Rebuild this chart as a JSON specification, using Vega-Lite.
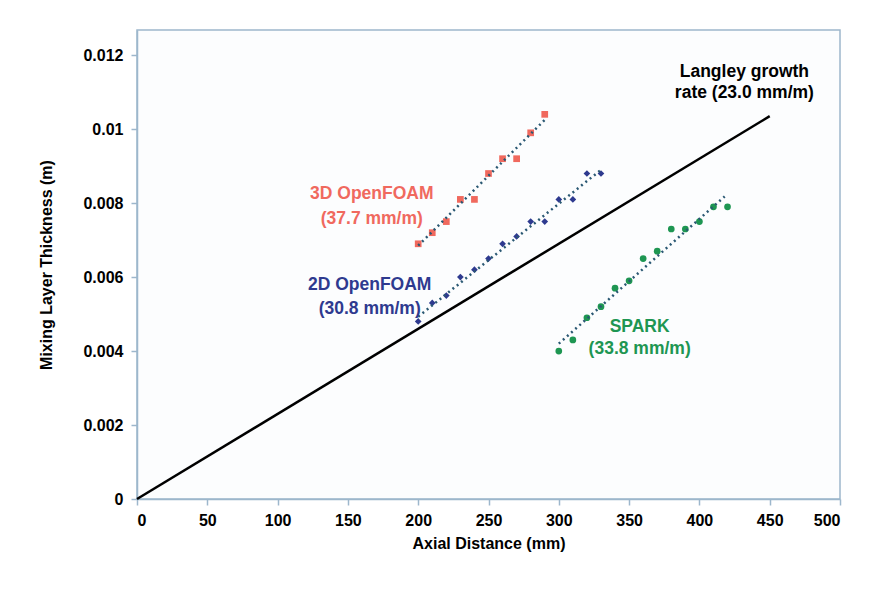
{
  "$schema": "https://vega.github.io/schema/vega-lite/v6.json",
  "width": 703,
  "height": 469,
  "autosize": {"type": "none"},
  "padding": {"left": 137, "top": 30, "right": 34, "bottom": 91},
  "background": "#ffffff",
  "config": {
    "font": "Liberation Sans",
    "view": {"stroke": "#9db7cc", "strokeWidth": 1.5, "fill": "#fcfdfe"},
    "axis": {
      "grid": false,
      "domainColor": "#9db7cc",
      "domainWidth": 1.5,
      "tickColor": "#9db7cc",
      "tickWidth": 1.5,
      "tickSize": 6,
      "labelFont": "Liberation Sans",
      "labelFontWeight": "bold",
      "labelFontSize": 16,
      "labelColor": "#000000",
      "titleFont": "Liberation Sans",
      "titleFontWeight": "bold",
      "titleFontSize": 16,
      "titleColor": "#000000"
    }
  },
  "datasets": {
    "points": [
      {"series": "3D OpenFOAM", "x": 200, "y": 0.0069},
      {"series": "3D OpenFOAM", "x": 210, "y": 0.0072},
      {"series": "3D OpenFOAM", "x": 220, "y": 0.0075},
      {"series": "3D OpenFOAM", "x": 230, "y": 0.0081},
      {"series": "3D OpenFOAM", "x": 240, "y": 0.0081},
      {"series": "3D OpenFOAM", "x": 250, "y": 0.0088},
      {"series": "3D OpenFOAM", "x": 260, "y": 0.0092},
      {"series": "3D OpenFOAM", "x": 270, "y": 0.0092},
      {"series": "3D OpenFOAM", "x": 280, "y": 0.0099},
      {"series": "3D OpenFOAM", "x": 290, "y": 0.0104},
      {"series": "2D OpenFOAM", "x": 200, "y": 0.0048},
      {"series": "2D OpenFOAM", "x": 210, "y": 0.0053},
      {"series": "2D OpenFOAM", "x": 220, "y": 0.0055},
      {"series": "2D OpenFOAM", "x": 230, "y": 0.0060},
      {"series": "2D OpenFOAM", "x": 240, "y": 0.0062},
      {"series": "2D OpenFOAM", "x": 250, "y": 0.0065},
      {"series": "2D OpenFOAM", "x": 260, "y": 0.0069},
      {"series": "2D OpenFOAM", "x": 270, "y": 0.0071},
      {"series": "2D OpenFOAM", "x": 280, "y": 0.0075},
      {"series": "2D OpenFOAM", "x": 290, "y": 0.0075},
      {"series": "2D OpenFOAM", "x": 300, "y": 0.0081},
      {"series": "2D OpenFOAM", "x": 310, "y": 0.0081},
      {"series": "2D OpenFOAM", "x": 320, "y": 0.0088},
      {"series": "2D OpenFOAM", "x": 330, "y": 0.0088},
      {"series": "SPARK", "x": 300, "y": 0.0040},
      {"series": "SPARK", "x": 310, "y": 0.0043},
      {"series": "SPARK", "x": 320, "y": 0.0049},
      {"series": "SPARK", "x": 330, "y": 0.0052},
      {"series": "SPARK", "x": 340, "y": 0.0057},
      {"series": "SPARK", "x": 350, "y": 0.0059},
      {"series": "SPARK", "x": 360, "y": 0.0065},
      {"series": "SPARK", "x": 370, "y": 0.0067},
      {"series": "SPARK", "x": 380, "y": 0.0073},
      {"series": "SPARK", "x": 390, "y": 0.0073},
      {"series": "SPARK", "x": 400, "y": 0.0075},
      {"series": "SPARK", "x": 410, "y": 0.0079},
      {"series": "SPARK", "x": 420, "y": 0.0079}
    ],
    "trends": [
      {"series": "3D OpenFOAM", "x": 200, "y": 0.00685},
      {"series": "3D OpenFOAM", "x": 290, "y": 0.01025},
      {"series": "2D OpenFOAM", "x": 200, "y": 0.00493},
      {"series": "2D OpenFOAM", "x": 331, "y": 0.00893},
      {"series": "SPARK", "x": 300, "y": 0.0042},
      {"series": "SPARK", "x": 418, "y": 0.00818}
    ],
    "langley": [
      {"x": 0, "y": 0},
      {"x": 450, "y": 0.01035}
    ],
    "labels": [
      {"series": "Langley", "text": "Langley growth", "x": 432, "y": 0.01154},
      {"series": "Langley", "text": "rate (23.0 mm/m)", "x": 432, "y": 0.01097},
      {"series": "3D OpenFOAM", "text": "3D OpenFOAM", "x": 167, "y": 0.00824},
      {"series": "3D OpenFOAM", "text": "(37.7 mm/m)", "x": 167, "y": 0.00757},
      {"series": "2D OpenFOAM", "text": "2D OpenFOAM", "x": 165.5, "y": 0.00578},
      {"series": "2D OpenFOAM", "text": "(30.8 mm/m)", "x": 165.5, "y": 0.00514},
      {"series": "SPARK", "text": "SPARK", "x": 357.5, "y": 0.00465},
      {"series": "SPARK", "text": "(33.8 mm/m)", "x": 357.5, "y": 0.00405}
    ]
  },
  "encoding": {
    "x": {
      "field": "x",
      "type": "quantitative",
      "scale": {"domain": [0, 500], "nice": false, "zero": false},
      "axis": {"values": [0, 50, 100, 150, 200, 250, 300, 350, 400, 450, 500], "title": "Axial Distance (mm)", "labelPadding": 7, "titlePadding": 7}
    },
    "y": {
      "field": "y",
      "type": "quantitative",
      "scale": {"domain": [0, 0.01268], "nice": false, "zero": false},
      "axis": {"values": [0, 0.002, 0.004, 0.006, 0.008, 0.01, 0.012], "format": "~g", "title": "Mixing Layer Thickness (m)", "labelPadding": 8, "titlePadding": 28}
    }
  },
  "layer": [
    {
      "data": {"name": "langley"},
      "mark": {"type": "line", "color": "#000000", "strokeWidth": 2.5},
      "encoding": {}
    },
    {
      "data": {"name": "points"},
      "mark": {"type": "point", "filled": true, "opacity": 1, "size": 45},
      "encoding": {
        "color": {"field": "series", "type": "nominal", "legend": null,
          "scale": {"domain": ["3D OpenFOAM", "2D OpenFOAM", "SPARK", "Langley"], "range": ["#f0695e", "#2e3a8f", "#1e9652", "#000000"]}},
        "shape": {"field": "series", "type": "nominal", "legend": null,
          "scale": {"domain": ["3D OpenFOAM", "2D OpenFOAM", "SPARK"], "range": ["square", "diamond", "circle"]}}
      }
    },
    {
      "data": {"name": "trends"},
      "mark": {"type": "line", "color": "#2a5873", "strokeWidth": 2.5, "strokeDash": [2, 3.5]},
      "encoding": {"detail": {"field": "series", "type": "nominal"}}
    },
    {
      "data": {"name": "labels"},
      "mark": {"type": "text", "font": "Liberation Sans", "fontWeight": "bold", "fontSize": 17.5, "align": "center", "baseline": "middle"},
      "encoding": {
        "text": {"field": "text", "type": "nominal"},
        "color": {"field": "series", "type": "nominal", "legend": null,
          "scale": {"domain": ["3D OpenFOAM", "2D OpenFOAM", "SPARK", "Langley"], "range": ["#f0695e", "#2e3a8f", "#1e9652", "#000000"]}}
      }
    }
  ]
}
